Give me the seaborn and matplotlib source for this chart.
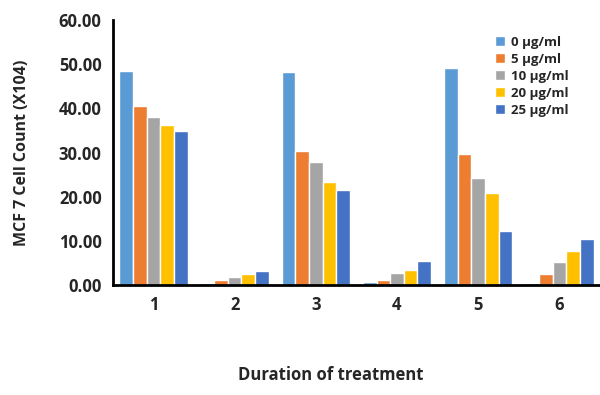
import pandas as pd
import matplotlib.pyplot as plt
import seaborn as sns

# Values
days = ['1', '2', '3', '4', '5', '6']
doses = ['0 µg/ml', '5 µg/ml', '10 µg/ml', '20 µg/ml', '25 µg/ml']
dose_0 = [48.6, 0.4, 48.3, 0.7, 49.2, 0.5]
dose_5 = [40.6, 1.2, 30.3, 1.2, 29.8, 2.5]
dose_10 = [38.0, 1.8, 27.8, 2.7, 24.3, 5.3]
dose_20 = [36.3, 2.5, 23.3, 3.5, 20.8, 7.8]
dose_25 = [34.8, 3.2, 21.6, 5.5, 12.3, 10.5]
colors = ['#5B9BD5', '#ED7D31', '#A5A5A5', '#FFC000', '#4472C4']

rows = []
for dose, vals in zip(doses, [dose_0, dose_5, dose_10, dose_20, dose_25]):
    for d, v in zip(days, vals):
        rows.append({'day': d, 'dose': dose, 'count': v})
df = pd.DataFrame(rows)

sns.set_style('white')
plt.rcParams['font.family'] = ['Open Sans', 'DejaVu Sans']

fig = plt.figure(figsize=(6, 3.95), dpi=100)
ax = fig.add_axes([0.188, 0.278, 0.812, 0.671])

sns.barplot(data=df, x='day', y='count', hue='dose', order=days, hue_order=doses,
            palette=colors, width=0.84, gap=0, saturation=1, ax=ax)

ax.set_xlim(-0.5, 5.5)
ax.set_ylim(0, 60)
ax.set_yticks(range(0, 61, 10))
ax.set_yticklabels([f'{v:.2f}' for v in range(0, 61, 10)])
ax.tick_params(axis='both', length=0, labelsize=12)
ax.tick_params(axis='y', pad=8)
ax.tick_params(axis='x', pad=8)
for lab in ax.get_xticklabels() + ax.get_yticklabels():
    lab.set_fontweight('bold')

for side in ['top', 'right']:
    ax.spines[side].set_visible(False)
for side in ['left', 'bottom']:
    ax.spines[side].set_color('black')
    ax.spines[side].set_linewidth(2)

ax.set_ylabel('MCF 7 Cell Count (X104)', fontsize=11.5, fontweight='bold', va='center')
ax.yaxis.set_label_coords(-0.187, 0.5)
ax.set_xlabel('Duration of treatment', fontsize=12, fontweight='bold', va='center')
ax.xaxis.set_label_coords(0.448, -0.34)

leg = ax.legend(loc='upper right', bbox_to_anchor=(0.959, 0.985), frameon=False,
                fontsize=9.5, handlelength=0.8, handleheight=0.8,
                handletextpad=0.4, labelspacing=0.3)
for t in leg.get_texts():
    t.set_fontweight('bold')

plt.savefig('out.png', dpi=100)
